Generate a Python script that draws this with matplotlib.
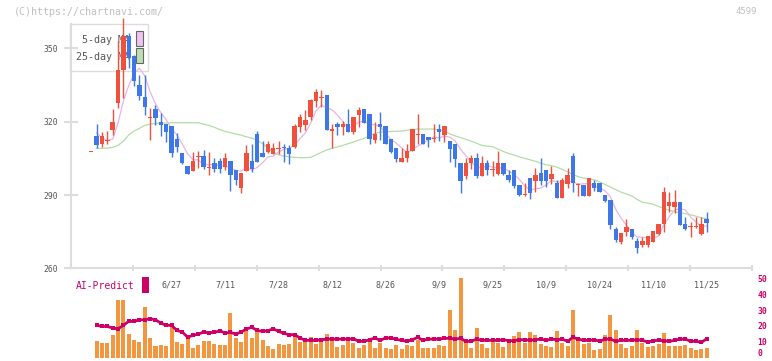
import numpy as np
import matplotlib
matplotlib.use("Agg")
import matplotlib.pyplot as plt
from matplotlib.patches import Rectangle

plt.rcParams['font.family'] = ['DejaVu Sans Mono']

# ---------------- data ----------------
opens = [307.7, 314.1, 310.7, 312.0, 316.7, 327.8, 341.1, 355.0, 346.9, 335.0,
         330.2, 321.6, 325.2, 319.9, 319.0, 318.2, 312.8, 307.1, 301.9, 300.0,
         305.4, 305.9, 301.0, 303.2, 303.9, 301.6, 303.9, 300.4, 293.0, 300.0,
         303.9, 315.0, 307.0, 307.7, 306.8, 308.9, 309.6, 309.4, 309.8, 318.0,
         318.6, 321.8, 328.6, 329.8, 330.9, 316.0, 319.0, 318.0, 318.9, 315.9,
         322.7, 325.2, 323.1, 312.5, 319.0, 318.2, 312.9, 309.4, 303.6, 305.0,
         308.0, 314.7, 314.8, 313.9, 312.8, 317.0, 314.5, 312.1, 310.7, 303.2,
         297.9, 303.0, 305.3, 297.9, 303.2, 300.2, 298.8, 303.2, 298.2, 300.2,
         294.1, 290.0, 296.8, 295.7, 299.1, 300.2, 296.5, 295.0, 288.9, 294.5,
         305.9, 294.0, 294.1, 289.7, 294.8, 294.8, 290.0, 287.9, 276.0, 270.6,
         274.7, 276.1, 271.2, 269.5, 269.5, 270.9, 273.9, 278.1, 285.5, 284.9,
         287.3, 278.1, 276.8, 276.8, 273.9, 280.2]
highs = [307.7, 319.0, 315.9, 316.2, 325.3, 353.0, 362.5, 356.5, 347.3, 339.0,
         339.0, 325.5, 326.8, 323.4, 319.2, 318.4, 315.2, 307.1, 301.9, 307.5,
         308.0, 308.5, 307.5, 305.0, 305.2, 307.3, 303.9, 300.4, 299.1, 310.6,
         310.9, 316.2, 312.2, 312.2, 311.1, 312.1, 310.9, 310.3, 318.9, 323.1,
         325.0, 329.1, 333.2, 332.9, 331.0, 318.9, 320.0, 320.3, 325.2, 321.8,
         326.1, 325.2, 323.1, 320.0, 324.1, 318.2, 312.9, 309.4, 309.1, 310.7,
         317.0, 323.1, 314.8, 313.9, 319.0, 319.0, 318.2, 312.1, 310.7, 303.2,
         305.3, 306.4, 307.0, 305.9, 304.3, 303.9, 308.0, 303.2, 300.2, 300.2,
         294.1, 294.8, 296.8, 300.9, 305.3, 300.2, 301.9, 296.1, 296.8, 300.9,
         307.0, 294.8, 294.1, 296.8, 296.1, 294.8, 290.0, 287.9, 277.0, 274.3,
         280.2, 276.1, 272.3, 272.9, 273.2, 275.3, 278.1, 293.4, 291.4, 292.0,
         287.3, 281.0, 279.1, 281.1, 281.1, 283.2]
lows = [307.7, 309.4, 309.6, 310.7, 314.5, 325.7, 329.8, 341.8, 334.5, 329.0,
        322.8, 312.5, 318.6, 314.0, 311.8, 305.7, 307.7, 302.5, 298.7, 299.9,
        300.9, 300.7, 298.0, 299.5, 299.0, 300.2, 291.8, 294.1, 290.8, 300.0,
        299.5, 303.6, 305.7, 307.0, 306.8, 306.8, 303.6, 302.7, 309.1, 315.9,
        316.6, 320.7, 326.1, 326.1, 316.6, 309.1, 314.5, 314.5, 315.9, 315.0,
        318.0, 319.6, 310.9, 311.1, 312.5, 310.7, 307.0, 303.6, 303.6, 303.6,
        308.0, 310.7, 310.7, 309.8, 311.8, 312.1, 311.8, 303.6, 301.6, 290.9,
        296.5, 300.6, 296.8, 297.9, 298.2, 297.9, 298.2, 298.2, 295.4, 292.7,
        289.7, 289.7, 288.2, 291.4, 294.1, 293.4, 294.5, 288.6, 288.6, 293.0,
        291.1, 289.7, 289.7, 289.7, 291.6, 291.1, 287.0, 276.0, 270.9, 269.8,
        273.4, 271.9, 266.1, 268.9, 268.9, 270.9, 273.6, 274.7, 283.2, 282.8,
        277.7, 275.5, 273.0, 276.5, 273.6, 275.0]
closes = [307.7, 310.5, 314.1, 312.1, 319.9, 341.1, 355.1, 346.0, 336.7, 330.5,
          325.9, 321.9, 321.6, 318.8, 315.9, 307.1, 309.8, 303.0, 298.8, 303.9,
          305.9, 301.6, 301.1, 300.6, 300.6, 305.2, 298.0, 296.0, 299.0, 307.2,
          300.6, 303.6, 305.7, 310.7, 309.1, 309.1, 309.2, 306.8, 318.2, 322.0,
          320.9, 328.9, 332.0, 330.0, 316.6, 317.0, 318.0, 318.9, 315.9, 321.8,
          324.7, 319.6, 312.8, 315.0, 317.9, 310.7, 307.7, 304.8, 305.3, 308.0,
          317.0, 315.0, 310.7, 312.5, 313.1, 315.9, 318.2, 308.8, 304.7, 295.7,
          303.2, 305.3, 297.9, 303.2, 300.2, 300.5, 303.2, 298.8, 296.1, 293.8,
          290.0, 290.0, 290.7, 298.2, 295.8, 295.8, 298.8, 288.9, 296.1, 298.2,
          294.8, 294.1, 289.7, 296.8, 293.0, 291.1, 287.7, 277.7, 271.6, 274.3,
          277.0, 272.9, 268.2, 271.2, 273.2, 275.3, 278.1, 291.4, 287.3, 287.3,
          277.7, 275.9, 277.0, 277.0, 278.1, 278.7]

nan = float('nan')
ma5 = [nan, 315.5, 313.3, 312.3, 312.9, 319.5, 328.5, 334.8, 339.8, 341.9,
       338.8, 332.2, 327.3, 323.7, 320.8, 317.1, 314.6, 310.9, 306.9, 304.5,
       304.3, 302.6, 302.3, 302.6, 302.0, 301.8, 301.1, 300.1, 299.8, 301.1,
       300.2, 301.3, 303.2, 305.6, 305.9, 307.6, 308.8, 309.0, 310.5, 313.1,
       315.4, 319.4, 324.4, 326.8, 325.7, 324.9, 322.7, 320.1, 317.3, 318.3,
       319.9, 320.2, 319.0, 318.8, 318.0, 315.2, 312.8, 311.2, 309.3, 307.3,
       308.6, 310.0, 311.2, 312.6, 313.7, 313.4, 314.1, 313.7, 312.1, 308.7,
       306.1, 303.5, 301.4, 301.1, 302.0, 301.4, 301.0, 301.2, 299.8, 298.5,
       296.4, 293.7, 292.1, 292.5, 292.9, 294.1, 295.9, 295.5, 295.1, 295.6,
       295.4, 294.4, 294.6, 294.7, 293.7, 292.9, 291.7, 289.3, 284.2, 280.5,
       277.7, 274.7, 272.8, 272.7, 272.5, 272.2, 273.2, 277.8, 281.1, 283.9,
       284.4, 283.9, 281.0, 279.0, 277.1, 277.3]
ma25 = [nan, 309.1, 309.1, 309.2, 309.5, 310.3, 312.0, 314.6, 316.2, 317.3,
        318.5, 319.0, 319.3, 319.4, 319.5, 319.6, 319.6, 319.6, 319.6, 319.6,
        319.6, 319.0, 318.5, 317.7, 316.8, 316.0, 315.5, 315.0, 314.5, 313.8,
        313.3, 312.5, 311.0, 309.3, 307.5, 306.5, 305.9, 305.6, 305.4, 305.3,
        305.3, 305.4, 306.4, 307.5, 308.4, 309.1, 309.7, 310.3, 311.0, 311.7,
        312.5, 313.2, 314.2, 315.2, 315.7, 315.9, 316.0, 316.1, 316.2, 316.5,
        316.8, 317.0, 317.0, 317.0, 317.0, 316.7, 316.1, 315.0, 314.2, 313.5,
        312.8, 312.0, 311.2, 310.3, 310.0, 309.8, 308.8, 307.8, 307.0, 306.4,
        305.6, 305.0, 304.4, 303.8, 303.0, 302.4, 302.0, 301.4, 300.5, 299.5,
        298.4, 297.5, 296.9, 296.6, 296.2, 295.4, 294.3, 293.3, 292.2, 291.2,
        290.4, 289.6, 288.2, 287.0, 286.7, 286.2, 285.3, 284.6, 283.8, 283.1,
        282.7, 282.4, 281.9, 281.3, 280.7, 280.3]

volume = [0.0, 10.3, 9.2, 9.2, 14.0, 36.1, 36.1, 14.9, 10.9, 9.6,
          32.3, 12.4, 7.1, 7.7, 7.1, 19.7, 9.6, 8.6, 13.4, 5.8,
          7.7, 10.3, 10.3, 8.8, 8.2, 7.7, 27.9, 12.2, 10.1, 19.1,
          12.2, 16.6, 10.9, 7.1, 5.4, 8.4, 7.7, 8.6, 12.8, 9.6,
          10.3, 12.8, 8.6, 10.7, 14.9, 10.9, 6.5, 7.7, 10.9, 9.0,
          5.8, 7.7, 12.2, 5.8, 9.2, 5.8, 5.2, 7.7, 5.4, 7.7,
          7.1, 10.9, 5.8, 5.8, 5.8, 7.7, 7.1, 29.8, 17.2, 50.2,
          9.2, 5.8, 18.5, 8.6, 5.8, 9.8, 9.2, 6.5, 9.8, 13.4,
          15.9, 9.2, 15.9, 14.0, 8.6, 7.1, 6.5, 16.6, 9.2, 7.1,
          30.4, 11.7, 8.6, 9.2, 4.6, 5.4, 14.0, 26.9, 17.2, 8.6,
          5.8, 7.1, 17.2, 9.2, 6.5, 7.1, 8.6, 15.3, 7.1, 7.1,
          7.1, 7.7, 5.8, 4.6, 5.4, 5.8]
ai_predict = [nan, 20.4, 19.7, 19.7, 18.7, 18.2, 20.4, 22.9, 22.9, 23.9,
              23.9, 24.6, 23.9, 21.8, 20.4, 20.4, 17.2, 16.1, 13.0, 14.0,
              14.9, 16.1, 15.7, 15.9, 17.0, 15.5, 15.9, 14.9, 16.1, 18.2,
              19.1, 17.2, 16.6, 17.0, 18.2, 16.6, 15.3, 14.5, 14.5, 12.4,
              10.9, 10.9, 10.9, 11.3, 11.7, 11.7, 11.7, 11.7, 11.7, 11.9,
              10.3, 10.3, 11.3, 12.4, 10.9, 12.4, 12.4, 11.5, 10.9, 10.3,
              11.3, 12.8, 10.9, 11.7, 11.7, 11.7, 12.2, 12.2, 11.7, 12.2,
              10.3, 10.3, 11.7, 10.9, 10.9, 10.9, 10.9, 11.3, 10.7, 10.7,
              11.3, 11.3, 10.9, 11.3, 11.7, 10.9, 11.7, 11.3, 11.7, 10.3,
              12.8, 11.7, 10.9, 10.9, 11.3, 10.3, 11.7, 11.7, 10.3, 10.9,
              10.9, 10.9, 11.3, 10.9, 9.8, 10.7, 10.9, 10.7, 10.3, 10.9,
              11.7, 11.7, 10.3, 10.3, 9.6, 11.9]

date_idx = [15, 25, 35, 45, 55, 65, 75, 85, 95, 105, 115]
date_labels = ['6/27', '7/11', '7/28', '8/12', '8/26', '9/9',
               '9/25', '10/9', '10/24', '11/10', '11/25']
price_ticks = [260, 290, 320, 350]
vol_ticks = [0, 10, 20, 30, 40, 50]

# ---------------- styling ----------------
W, H = 772, 361
RED = '#f0503c'
BLUE = '#3d78e6'
GRID = '#dddddd'
TXT = '#555555'
MAG = '#cc0066'


def fr(x0, y0, x1, y1):
    return [x0 / W, 1 - y1 / H, (x1 - x0) / W, (y1 - y0) / H]


fig = plt.figure(figsize=(W / 100, H / 100), dpi=100)
fig.patch.set_facecolor('white')

ax = fig.add_axes(fr(71, 24, 752, 268.3))
vax = fig.add_axes(fr(71, 278.5, 752, 357.6))

n = len(opens)
xs = np.arange(n)
o = np.array(opens); h = np.array(highs); l = np.array(lows); c = np.array(closes)
cols = [RED if c[i] >= o[i] else BLUE for i in range(n)]
bottoms = np.minimum(o, c)
heights = np.maximum(np.abs(c - o), 0.45)

XL = (-3.79, 123.47)

ax.vlines(xs, l, h, colors=cols, linewidth=1.0, zorder=3, clip_on=False)
ax.bar(xs, heights, bottom=bottoms, width=0.82, color=cols, linewidth=0,
       zorder=4, clip_on=False)
ax.plot(xs, ma5, color='#e8b4ea', lw=0.9, zorder=2.5)
ax.plot(xs, ma25, color='#b4dca6', lw=0.9, zorder=2.5)

ax.set_xlim(*XL)
ax.set_ylim(260, 360)
for s in ('top', 'right'):
    ax.spines[s].set_visible(False)
for s in ('left', 'bottom'):
    ax.spines[s].set_color(GRID)
    ax.spines[s].set_linewidth(1.5)
ax.set_yticks(price_ticks)
ax.set_yticklabels([str(t) for t in price_ticks])
ax.tick_params(axis='y', direction='inout', length=10, width=1.5, color=GRID,
               labelsize=5.8, labelcolor=TXT, pad=4)
ax.set_xticks(date_idx)
ax.set_xticklabels(date_labels)
ax.tick_params(axis='x', which='major', length=0, pad=8.5, labelsize=6,
               labelcolor=TXT)
ax.set_xticks(np.linspace(XL[0], XL[1], 12)[1:], minor=True)
ax.tick_params(axis='x', which='minor', direction='inout', length=5, width=1.5,
               color=GRID)
ax.patch.set_alpha(0)

# legend box
ax.add_patch(Rectangle((70 / W, 1 - 71 / H), 78 / W, 47 / H,
                       transform=fig.transFigure, facecolor='white',
                       edgecolor=GRID, lw=1.0, zorder=1, clip_on=False))
ax.text(130 / W, 1 - 40 / H, '5-day MA', transform=fig.transFigure,
        ha='right', va='center', fontsize=7.2, color=TXT, zorder=1.5)
ax.text(130 / W, 1 - 57 / H, '25-day MA', transform=fig.transFigure,
        ha='right', va='center', fontsize=7.2, color=TXT, zorder=1.5)
ax.add_patch(Rectangle((136 / W, 1 - 46 / H), 6.5 / W, 15 / H,
                       transform=fig.transFigure, facecolor='#f0c4f0',
                       edgecolor='#666666', lw=0.8, zorder=6, clip_on=False))
ax.add_patch(Rectangle((136 / W, 1 - 63 / H), 6.5 / W, 15 / H,
                       transform=fig.transFigure, facecolor='#bce0b0',
                       edgecolor='#666666', lw=0.8, zorder=6, clip_on=False))

# volume / AI panel
vax.bar(xs, volume, width=0.75, color='#f2963f', linewidth=0, clip_on=False)
vax.plot(xs, ai_predict, color=MAG, lw=2.0, marker='s', ms=2.2, mew=0,
         zorder=3, clip_on=False)
vax.set_xlim(*XL)
vax.set_ylim(0, 50)
for s in vax.spines.values():
    s.set_visible(False)
vax.set_xticks([])
vax.yaxis.tick_right()
vax.set_yticks(vol_ticks)
vax.set_yticklabels([str(t) for t in vol_ticks])
vax.tick_params(axis='y', length=0, pad=4, labelsize=5.8, labelcolor=MAG)
for t in vax.get_yticklabels():
    t.set_fontweight('bold')
vax.get_yticklabels()[0].set_va('bottom')
vax.patch.set_alpha(0)

fig.text(76 / W, 1 - 286 / H, 'AI-Predict', ha='left', va='center',
         fontsize=7, color=MAG)
fig.patches.append(Rectangle((142.3 / W, 1 - 292.7 / H), 6.4 / W, 15.4 / H,
                             transform=fig.transFigure, facecolor=MAG,
                             edgecolor='none'))

fig.text(14 / W, 1 - 12 / H, '(C)https://chartnavi.com/', ha='left',
         va='center', fontsize=7.2, color='#c0c0c0')
fig.text(757 / W, 1 - 12 / H, '4599', ha='right', va='center',
         fontsize=6.5, color='#c0c0c0')

fig.savefig('out.png', dpi=100, facecolor='white')
